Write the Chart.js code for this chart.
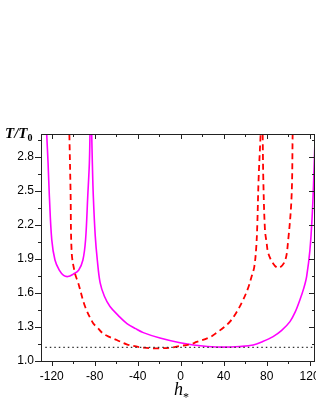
<!DOCTYPE html>
<html>
<head>
<meta charset="utf-8">
<script src="https://cdn.jsdelivr.net/npm/chart.js@4.4.1/dist/chart.umd.min.js"></script>
<style>
  html, body { margin: 0; padding: 0; background: #fff; }
  #wrap { width: 316px; height: 409px; }
</style>
</head>
<body>
<div id="wrap"><canvas id="tChart" width="316" height="409"></canvas></div>
<script>
// ============================================================
// DATA
// ============================================================
const magentaLeftH = [-124.7, -123.4, -122.2, -120, -117, -113, -109, -105, -100, -95, -91, -88.5, -86.5, -85, -84.4];
const magentaLeftT = [3.0, 2.74, 2.45, 2.07, 1.89, 1.80, 1.755, 1.744, 1.765, 1.80, 1.89, 2.07, 2.45, 2.74, 3.0];

const magentaMainH = [-82.8, -82.2, -81.3, -79.5, -77.6, -75, -71, -65.8, -58, -50, -42, -34.8, -19.3, -0.6, 11.7, 25, 39.6, 55, 67.5, 76, 86, 94, 101.7, 106.5, 111, 114.5, 117.2, 120.3, 122.5, 123.8, 125];
const magentaMainT = [3.0, 2.74, 2.45, 2.1, 1.89, 1.69, 1.57, 1.48, 1.40, 1.33, 1.285, 1.25, 1.202, 1.16, 1.141, 1.128, 1.122, 1.128, 1.141, 1.17, 1.215, 1.27, 1.347, 1.43, 1.54, 1.64, 1.744, 1.98, 2.3, 2.6, 2.95];

const redMainH = [-103.6, -102.5, -101.4, -98.3, -95.3, -89, -81.3, -78, -72, -65.8, -59.5, -50.2, -34.8, -22.3, -10, -0.6, 8.7, 14.9, 27.3, 33.5, 40, 45.9, 52, 58.2, 63, 66, 68.5, 70.3, 71.3, 72.5, 74.4];
const redMainT = [3.0, 2.5, 1.95, 1.77, 1.686, 1.48, 1.33, 1.30, 1.24, 1.21, 1.185, 1.147, 1.117, 1.112, 1.117, 1.132, 1.147, 1.168, 1.21, 1.25, 1.295, 1.347, 1.43, 1.54, 1.65, 1.744, 1.83, 2.0, 2.2, 2.6, 3.0];

const redRightH = [76.3, 76.9, 78.4, 80, 81.5, 86, 91, 97, 100, 103.2, 104.2];
const redRightT = [3.0, 2.6, 2.16, 2.04, 1.95, 1.86, 1.82, 1.88, 2.06, 2.45, 3.0];

const dottedH = [-126, 125];
const dottedT = [1.12, 1.12];

const xMajorTicks = [-120, -80, -40, 0, 40, 80, 120];
const xMinorTicks = [-100, -60, -20, 20, 60, 100];
const yMajorTicks = [1.0, 1.3, 1.6, 1.9, 2.2, 2.5, 2.8];
const yMinorTicks = [1.15, 1.45, 1.75, 2.05, 2.35, 2.65, 2.95];

const pts = (hs, ts) => hs.map((h, i) => ({ x: h, y: ts[i] }));

// ============================================================
// FRAME, TICKS AND AXIS TITLES
// ============================================================
const framePlugin = {
  id: 'frame',
  afterDraw(chart) {
    const { ctx, chartArea: a, scales: { x, y } } = chart;
    ctx.save();
    ctx.strokeStyle = '#222';
    ctx.lineWidth = 1;
    ctx.strokeRect(a.left + 0.5, a.top + 0.5, a.right - a.left - 1, a.bottom - a.top);

    ctx.beginPath();
    const xt = (v, len) => {
      const px = Math.round(x.getPixelForValue(v)) + 0.5;
      ctx.moveTo(px, a.bottom); ctx.lineTo(px, a.bottom + len);   // bottom, outward
      ctx.moveTo(px, a.top); ctx.lineTo(px, a.top + len);         // top, inward
    };
    const yt = (v, len) => {
      const py = Math.round(y.getPixelForValue(v)) + 0.5;
      ctx.moveTo(a.left, py); ctx.lineTo(a.left - len, py);
      ctx.moveTo(a.right, py); ctx.lineTo(a.right - len, py);
    };
    xMajorTicks.forEach(v => xt(v, 5));
    xMinorTicks.forEach(v => xt(v, 3));
    yMajorTicks.forEach(v => yt(v, 6));
    yMinorTicks.forEach(v => yt(v, 3));
    ctx.stroke();

    // axis titles
    ctx.fillStyle = '#000';
    ctx.textBaseline = 'alphabetic';
    ctx.font = 'bold italic 15px "Liberation Serif"';
    ctx.fillText('T/T', 5, 138);
    const w = ctx.measureText('T/T').width;
    ctx.font = 'bold 10px "Liberation Serif"';
    ctx.fillText('0', 5 + w, 141);

    ctx.font = 'italic 18px "Liberation Serif"';
    ctx.fillText('h', 174, 395);
    const hw = ctx.measureText('h').width;
    ctx.font = '12px "Liberation Serif"';
    ctx.fillText('*', 174 + hw, 401);
    ctx.restore();
  }
};

// ============================================================
// CHART
// ============================================================
const lineBase = { pointRadius: 0, fill: false, tension: 0.35 };

new Chart(document.getElementById('tChart').getContext('2d'), {
  type: 'line',
  data: {
    datasets: [
      { ...lineBase, data: pts(dottedH, dottedT), borderColor: '#333', borderWidth: 1.3, borderDash: [1.5, 3], tension: 0 },
      { ...lineBase, data: pts(redMainH, redMainT), borderColor: '#ff0000', borderWidth: 1.8, borderDash: [6, 4] },
      { ...lineBase, data: pts(redRightH, redRightT), borderColor: '#ff0000', borderWidth: 1.8, borderDash: [6, 4] },
      { ...lineBase, data: pts(magentaLeftH, magentaLeftT), borderColor: '#ff00ff', borderWidth: 1.6 },
      { ...lineBase, data: pts(magentaMainH, magentaMainT), borderColor: '#ff00ff', borderWidth: 1.6 }
    ]
  },
  options: {
    responsive: false,
    animation: false,
    layout: { padding: { top: 134, right: 1, left: 0, bottom: 0 } },
    plugins: { legend: { display: false }, tooltip: { enabled: false } },
    scales: {
      x: {
        type: 'linear', min: -130, max: 125,
        grid: { display: false, drawTicks: false }, border: { display: false },
        ticks: { font: { family: '"Liberation Sans"', size: 12 }, color: '#000', padding: 8, maxRotation: 0 },
        afterBuildTicks: s => { s.ticks = xMajorTicks.map(v => ({ value: v })); },
        afterFit: s => { s.height = 48; s.paddingLeft = 0; s.paddingRight = 0; }
      },
      y: {
        type: 'linear', min: 1.0, max: 3.0,
        grid: { display: false, drawTicks: false }, border: { display: false },
        ticks: { font: { family: '"Liberation Sans"', size: 12 }, color: '#000', padding: 7, callback: v => Number(v).toFixed(1) },
        afterBuildTicks: s => { s.ticks = yMajorTicks.map(v => ({ value: v })); },
        afterFit: s => { s.width = 41; s.paddingTop = 0; s.paddingBottom = 0; }
      }
    }
  },
  plugins: [framePlugin]
});
</script>
</body>
</html>
